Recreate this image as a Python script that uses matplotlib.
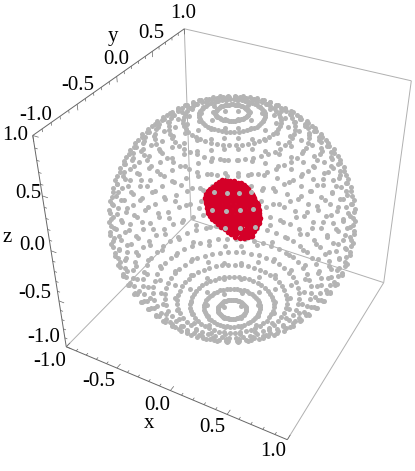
import numpy as np
import matplotlib
matplotlib.use("Agg")
import matplotlib.pyplot as plt

# sphere grid, degrees
polar_deg = [7.2, 14.4, 21.6, 28.8, 36.0, 43.2, 50.4, 57.6, 64.8, 72.0, 79.2, 86.4,
             93.6, 100.8, 108.0, 115.2, 122.4, 129.6, 136.8, 144.0, 151.2, 158.4, 165.6, 172.8]
azimuth_deg = [0.0, 7.2, 14.4, 21.6, 28.8, 36.0, 43.2, 50.4, 57.6, 64.8,
               72.0, 79.2, 86.4, 93.6, 100.8, 108.0, 115.2, 122.4, 129.6, 136.8,
               144.0, 151.2, 158.4, 165.6, 172.8, 180.0, 187.2, 194.4, 201.6, 208.8,
               216.0, 223.2, 230.4, 237.6, 244.8, 252.0, 259.2, 266.4, 273.6, 280.8,
               288.0, 295.2, 302.4, 309.6, 316.8, 324.0, 331.2, 338.4, 345.6, 352.8]
sphere_radius = 0.96

# red patch, rows of latitude with their longitudes
red_lat = [52, 51, 50, 49, 48, 47, 46, 45, 44, 43, 42, 41, 40, 39, 38, 37, 36, 35, 34, 33, 32, 31, 30, 29, 28.5]
red_lon = [
    [-68, -65.5, -63, -60],
    [-70, -67.5, -65, -62.5, -60, -57.5, -56],
    [-72, -69.5, -67, -64.5, -62, -59.5, -57, -54],
    [-73.5, -71, -68.5, -66, -63.5, -61, -58.5, -56, -53],
    [-75, -72.5, -70, -67.5, -65, -62.5, -60, -57.5, -55, -52],
    [-76, -73.5, -71, -68.5, -66, -63.5, -61, -58.5, -56, -53.5, -51],
    [-77, -74.5, -72, -69.5, -67, -64.5, -62, -59.5, -57, -54.5, -52, -50],
    [-76.5, -74, -71.5, -69, -66.5, -64, -61.5, -59, -56.5, -54, -51.5, -49.5],
    [-77, -74.5, -72, -69.5, -67, -64.5, -62, -59.5, -57, -54.5, -52, -49],
    [-76, -73.5, -71, -68.5, -66, -63.5, -61, -58.5, -56, -53.5, -51, -48.5],
    [-76, -73.5, -71, -68.5, -66, -63.5, -61, -58.5, -56, -53.5, -51, -48],
    [-75, -72.5, -70, -67.5, -65, -62.5, -60, -57.5, -55, -52.5, -50, -47.5],
    [-75, -72.5, -70, -67.5, -65, -62.5, -60, -57.5, -55, -52.5, -50, -47.5],
    [-74, -71.5, -69, -66.5, -64, -61.5, -59, -56.5, -54, -51.5, -49, -47.5],
    [-74, -71.5, -69, -66.5, -64, -61.5, -59, -56.5, -54, -51.5, -49, -47.5],
    [-73, -70.5, -68, -65.5, -63, -60.5, -58, -55.5, -53, -50.5, -48],
    [-71.5, -69, -66.5, -64, -61.5, -59, -56.5, -54, -51.5, -49, -47.5],
    [-70, -67.5, -65, -62.5, -60, -57.5, -55, -52.5, -50, -48],
    [-68.5, -66, -63.5, -61, -58.5, -56, -53.5, -51, -48.5],
    [-67, -64.5, -62, -59.5, -57, -54.5, -52, -49.5],
    [-65, -62.5, -60, -57.5, -55, -52.5, -50],
    [-63.5, -61, -58.5, -56, -53.5, -51],
    [-62, -59.5, -57, -54.5, -52],
    [-60, -57.5, -55, -52.5],
    [-58, -56, -54],
]

major_ticks = [-1.0, -0.5, 0.0, 0.5, 1.0]
minor_ticks = [-0.9, -0.8, -0.7, -0.6, -0.4, -0.3, -0.2, -0.1,
               0.1, 0.2, 0.3, 0.4, 0.6, 0.7, 0.8, 0.9]
x_labels = ["-1.0", "-0.5", "0.0", "0.5", "1.0"]
y_labels = ["-1.0", "-0.5", "0.0", "0.5", "1.0"]
z_labels = ["-1.0", "-0.5", "0.0", "0.5", "1.0"]

# label places on the canvas
x_label_pos = [(50, 362), (99, 382), (157, 406), (212, 428), (273, 452)]
y_label_pos = [(36, 116), (78, 86), (116, 60), (151, 34), (183, 14)]
z_label_pos = [(44, 337), (35, 293), (32, 245), (28, 193), (15, 135)]

# view, same as the usual {1.3, -2.4, 2} one in box units
camera = np.array([2.6, -4.8, 4.0])
focal = 860.0
centre = (232.0, 219.0)

GRAY = "#b4b4b4"
RED = "#d40028"
EDGE_DARK = "#666666"
EDGE_LIGHT = "#b0b0b0"

plt.rcParams["font.family"] = ["Liberation Serif", "DejaVu Serif"]

dist = np.linalg.norm(camera)
back = camera / dist
right = np.array([-back[1], back[0], 0.0])
right = right / np.linalg.norm(right)
up = np.cross(back, right)


def to_screen(x, y, z):
    p = np.stack([np.asarray(x, float), np.asarray(y, float), np.asarray(z, float)], axis=-1)
    depth = dist - p @ back
    return centre[0] + focal * (p @ right) / depth, centre[1] - focal * (p @ up) / depth


def on_sphere(lat, lon):
    lat = np.radians(lat)
    lon = np.radians(lon)
    return (sphere_radius * np.cos(lat) * np.cos(lon),
            sphere_radius * np.cos(lat) * np.sin(lon),
            sphere_radius * np.sin(lat))


def segment(ax, a, b, color, lw=0.7):
    sx, sy = to_screen([a[0], b[0]], [a[1], b[1]], [a[2], b[2]])
    ax.plot(sx, sy, color=color, lw=lw, solid_capstyle="butt", zorder=1)


fig = plt.figure(figsize=(4.15, 4.71), dpi=100)
ax = fig.add_axes([0, 0, 1, 1])
ax.set_xlim(0, 415)
ax.set_ylim(471, 0)
ax.axis("off")

# back edges of the box
segment(ax, (-1, 1, 1), (1, 1, 1), EDGE_LIGHT)
segment(ax, (1, 1, 1), (1, 1, -1), EDGE_LIGHT)
segment(ax, (1, 1, -1), (1, -1, -1), EDGE_LIGHT)
segment(ax, (-1, 1, 1), (-1, 1, -1), EDGE_LIGHT)
segment(ax, (-1, 1, -1), (1, 1, -1), EDGE_LIGHT)
segment(ax, (-1, 1, -1), (-1, -1, -1), EDGE_LIGHT)

# the three framed axes with their ticks
segment(ax, (-1, -1, -1), (1, -1, -1), EDGE_DARK)
segment(ax, (-1, -1, 1), (-1, 1, 1), EDGE_DARK)
segment(ax, (-1, -1, 1), (-1, -1, -1), EDGE_DARK)
for ticks, size in ((major_ticks, 0.05), (minor_ticks, 0.025)):
    for t in ticks:
        segment(ax, (t, -1, -1), (t, -1 + size, -1), EDGE_DARK, 0.5)
        segment(ax, (-1, t, 1), (-1, t, 1 - size), EDGE_DARK, 0.5)
        segment(ax, (-1, -1, t), (-1 + size, -1, t), EDGE_DARK, 0.5)

for labels, places in ((x_labels, x_label_pos), (y_labels, y_label_pos), (z_labels, z_label_pos)):
    for text, (px, py) in zip(labels, places):
        ax.text(px, py, text, fontsize=15, ha="center", va="center", color="black")
ax.text(149, 423, "x", fontsize=15, ha="center", va="center")
ax.text(113, 37, "y", fontsize=15, ha="center", va="center")
ax.text(7, 238, "z", fontsize=15, ha="center", va="center")

lat_grid, lon_grid = np.meshgrid(90.0 - np.array(polar_deg), np.array(azimuth_deg))
gx, gy, gz = on_sphere(lat_grid.ravel(), lon_grid.ravel())
facing = gx * camera[0] + gy * camera[1] + gz * camera[2] > sphere_radius ** 2

sx, sy = to_screen(gx, gy, gz)
ax.scatter(sx[~facing], sy[~facing], s=13, color=GRAY, linewidths=0, zorder=2)

rlat = np.concatenate([[lat] * len(lons) for lat, lons in zip(red_lat, red_lon)])
rlon = np.concatenate(red_lon)
rx, ry = to_screen(*on_sphere(rlat, rlon))
ax.scatter(rx, ry, s=16, color=RED, linewidths=0, zorder=3)

ax.scatter(sx[facing], sy[facing], s=13, color=GRAY, linewidths=0, zorder=4)

fig.savefig("out.png", dpi=100)
